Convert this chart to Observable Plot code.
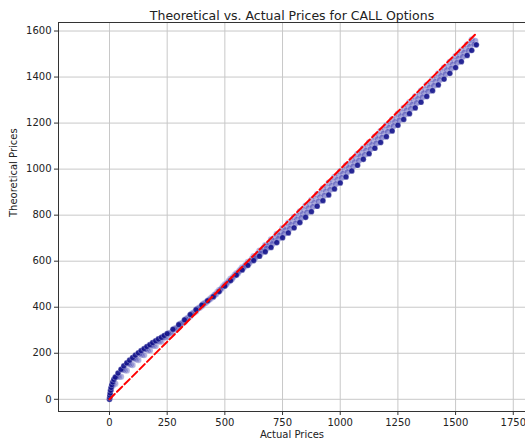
<!DOCTYPE html>
<html><head><meta charset="utf-8">
<script src="https://cdn.jsdelivr.net/npm/d3@7"></script>
<script src="https://cdn.jsdelivr.net/npm/@observablehq/plot@0.6"></script>
<style>body{margin:0;background:#fff} svg{display:block}</style>
</head><body><div id="chart"></div>
<script>
const title = "Theoretical vs. Actual Prices for CALL Options";
const xLabel = "Actual Prices";
const yLabel = "Theoretical Prices";
const xTicks = [0,250,500,750,1000,1250,1500,1750];
const yTicks = [0,200,400,600,800,1000,1200,1400,1600];

// dense (dark) series
const darkActual = [0,1,2,3,5,7,10,14,19,25,37,50,62,75,87,100,112,125,137,150,162,175,187,200,212,225,237,250,275,300,325,350,375,400,425,450,475,500,525,550,575,600,625,650,675,700,725,750,775,800,825,850,875,900,925,950,975,1000,1025,1050,1075,1100,1125,1150,1175,1200,1225,1250,1275,1300,1325,1350,1375,1400,1425,1450,1475,1500,1525,1550,1570,1590];
const darkTheo = [0,8,17,27,39,51,63,75,86,96,114,130,145,158,170,181,192,202,211,220,229,237,246,254,262,269,277,285,304,324,345,368,389,409,428,446,468,492,516,540,562,582,603,622,641,660,681,702,723,745,768,791,815,839,863,888,914,940,966,992,1017,1043,1067,1091,1116,1141,1166,1191,1216,1241,1266,1291,1316,1341,1366,1391,1416,1441,1467,1494,1516,1540];

// lighter series (between dense curve and diagonal)
const bActual = [12,37,62,87,112,137,162,187,212,237,262,287,312,337,362,387,412,437,462,487,512,537,562,587,612,637,662,687,712,737,762,787,812,837,862,887,912,937,962,987,1012,1037,1062,1087,1112,1137,1162,1187,1212,1237,1262,1287,1312,1337,1362,1387,1412,1437,1462,1487,1512,1537,1562,1585];
const bTheo = [58,99,128,153,176,196,216,234,252,269,288,309,330,352,375,397,417,437,458,483,508,532,556,579,602,623,645,667,689,712,735,758,781,805,830,854,878,903,928,954,980,1005,1030,1056,1081,1105,1130,1155,1180,1205,1230,1255,1280,1305,1330,1355,1380,1405,1430,1455,1480,1506,1532,1557];

const cActual = [25,50,75,100,125,150,175,200,225,250,275,300,325,350,375,400,425,450,475,500,525,550,575,600,625,650,675,700,725,750,775,800,825,850,875,900,925,950,975,1000,1025,1050,1075,1100,1125,1150,1175,1200,1225,1250,1275,1300,1325,1350,1375,1400,1425,1450,1475,1500,1525,1550,1570];
const cTheo = [68,98,125,149,171,192,212,232,251,271,292,314,337,361,383,405,427,447,474,499,524,548,573,597,622,646,670,694,718,743,767,792,816,841,866,891,916,941,966,991,1016,1041,1066,1091,1116,1141,1166,1191,1216,1241,1266,1291,1316,1341,1366,1391,1416,1441,1466,1491,1516,1541,1562];

const dActual = [6,31,56,81,106,131,156,181,206,231,256,281,306,331,356,381,406,431,456,481,506,531,556,581,606,631,656,681,706,731,756,781,806,831,856,881,906,931,956,981,1006,1031,1056,1081,1106,1131,1156,1181,1206,1231,1256,1281,1306,1331,1356,1381,1406,1431,1456,1481,1506,1531,1556,1581];
const dTheo = [41,98,130,156,178,198,218,235,253,269,286,306,327,348,371,393,413,432,453,476,500,524,548,571,592,614,634,655,675,697,719,741,764,788,812,836,860,885,910,935,962,987,1012,1037,1062,1087,1112,1137,1162,1187,1212,1237,1262,1287,1312,1337,1362,1387,1412,1437,1462,1488,1515,1542];

const eActual = [18,43,68,93,118,143,168,193,218,243,268,293,318,343,368,393,418,443,468,493,518,543,568,593,618,643,668,693,718,743,768,793,818,843,868,893,918,943,968,993,1018,1043,1068,1093,1118,1143,1168,1193,1218,1243,1268,1293,1318,1343,1368,1393,1418,1443,1468,1493,1518,1543,1568];
const eTheo = [64,98,126,150,173,193,213,233,251,270,290,310,333,356,378,400,421,442,466,491,515,540,564,587,611,634,657,680,703,727,750,774,798,823,847,872,896,921,947,972,997,1022,1047,1072,1097,1122,1147,1172,1197,1222,1247,1272,1297,1322,1347,1372,1397,1422,1447,1472,1497,1523,1549];

const diag = [d3.min(darkActual), d3.max(darkActual)];
const fmt = d => String(d);
const light = (xs, ys, op) => Plot.dot(xs, {x: xs, y: ys, r: 3.2, fill: "#4646b2", fillOpacity: op, stroke: "#fff", strokeWidth: 0.5, strokeOpacity: 0.6});

const chart = Plot.plot({
  width: 525, height: 446,
  marginLeft: 58, marginRight: 0, marginTop: 22, marginBottom: 35,
  style: {fontFamily: "DejaVu Sans", fontSize: "10px", color: "#222", background: "#fff"},
  x: {domain: [-221, 1803], label: null},
  y: {domain: [-53, 1637], label: null},
  marks: [
    Plot.gridX(xTicks, {stroke: "#c8c8c8", strokeOpacity: 1, strokeWidth: 1}),
    Plot.gridY(yTicks, {stroke: "#c8c8c8", strokeOpacity: 1, strokeWidth: 1}),
    light(cActual, cTheo, 0.45),
    light(eActual, eTheo, 0.45),
    light(bActual, bTheo, 0.5),
    light(dActual, dTheo, 0.55),
    Plot.dot(darkActual, {x: darkActual, y: darkTheo, r: 2.9, fill: "#10108a", fillOpacity: 0.9, stroke: "#fff", strokeWidth: 0.4, strokeOpacity: 0.7}),
    Plot.line(diag, {x: diag, y: diag, stroke: "red", strokeWidth: 2, strokeDasharray: "7.4,3.2"}),
    Plot.frame({stroke: "#333", strokeWidth: 1}),
    Plot.axisX(xTicks, {tickSize: 4, tickPadding: 3, stroke: "#333", fontSize: 10, fill: "#222", tickFormat: fmt}),
    Plot.axisY(yTicks, {tickSize: 4, tickPadding: 3, stroke: "#333", fontSize: 10, fill: "#222", tickFormat: fmt}),
    Plot.text([title], {frameAnchor: "top", dy: -11, fontSize: 12.5, fill: "#222"}),
    Plot.text([xLabel], {frameAnchor: "bottom", dy: 26, fontSize: 10, fill: "#222"}),
    Plot.text([yLabel], {frameAnchor: "left", dx: -44.5, rotate: -90, fontSize: 10, fill: "#222"})
  ]
});
document.getElementById("chart").append(chart);
</script>
</body></html>
